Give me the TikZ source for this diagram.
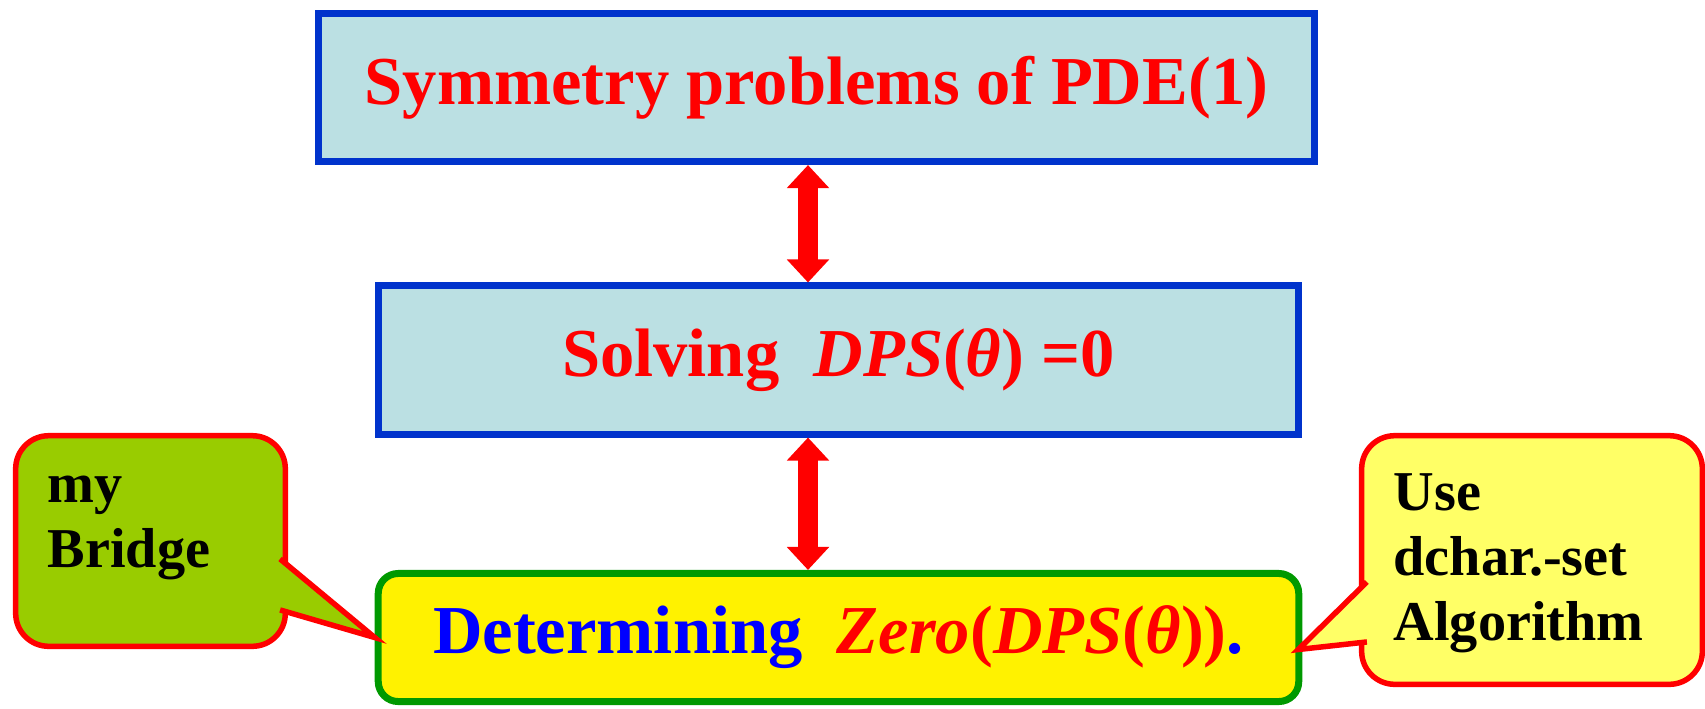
\documentclass[tikz,border=0pt]{standalone}
\usepackage{fontspec}
\setmainfont{Liberation Serif}
\usepackage{xcolor}
\usetikzlibrary{arrows.meta, positioning, calc}

\definecolor{boxblue}{HTML}{0033CC}
\definecolor{boxfill}{HTML}{BBE0E3}
\definecolor{boxgreen}{HTML}{009900}
\definecolor{bridgefill}{HTML}{99CC00}
\definecolor{algofill}{HTML}{FFFF66}

\begin{document}
\begin{tikzpicture}[x=0.01cm, y=-0.01cm,
    stagebox/.style={draw=boxblue, fill=boxfill, line width=0.07cm, minimum height=1.48cm, text=red, font=\bfseries\fontsize{19.5}{22}\selectfont},
    callbox/.style={draw=red, fill=#1, line width=0.055cm, rounded corners=0.33cm},
    calltext/.style={align=left, inner sep=0pt, anchor=north west, font=\bfseries\fontsize{16}{18.5}\selectfont},
    bigarrow/.style={red, line width=0.2cm, {Triangle[length=0.23cm, width=0.41cm]}-{Triangle[length=0.23cm, width=0.41cm]}}]
    \useasboundingbox (0,0) rectangle (1705,708);

    % Stages
    \node[stagebox, minimum width=9.96cm] (symm) at (816.5,87.5) {Symmetry problems of PDE(1)};
    \node[stagebox, minimum width=9.2cm] (solve) at (838.5,360) {Solving\ \ \textit{DPS}(\textit{θ}) =0};
    \node[stagebox, draw=boxgreen, fill=yellow, rounded corners=0.2cm, minimum width=9.2cm, minimum height=1.28cm] (determ) at (838.5,637.5) {\textcolor{blue}{Determining}\ \ \textit{Zero}(\textit{DPS}(\textit{θ}))\textcolor{blue}{.}};

    % Arrows
    \coordinate (ax) at (808,0);
    \draw[bigarrow] (symm.south -| ax) -- (solve.north -| ax);
    \draw[bigarrow] (solve.south -| ax) -- (determ.north -| ax);

    % Callouts
    \node[callbox=bridgefill, minimum width=2.695cm, minimum height=2.105cm] (bridge) at (150.5,541) {};
    \filldraw[draw=red, fill=bridgefill, line width=0.055cm] ($(bridge.north east)+(-8,126)$) -- (determ.west) -- ($(bridge.north east)+(-8,177)$);
    \node[calltext] (bridgetxt) at ($(bridge.north west)+(34,42)$) {my\\Bridge};

    \node[callbox=algofill, minimum width=3.405cm, minimum height=2.485cm] (algo) at (1532,560) {};
    \filldraw[draw=red, fill=algofill, line width=0.055cm] ($(algo.north west)+(8,149)$) -- ($(determ.east)+(-4,12)$) -- ($(algo.north west)+(8,209)$);
    \node[calltext] (algotxt) at ($(algo.north west)+(34,40)$) {Use\\dchar.-set\\Algorithm};
\end{tikzpicture}
\end{document}
